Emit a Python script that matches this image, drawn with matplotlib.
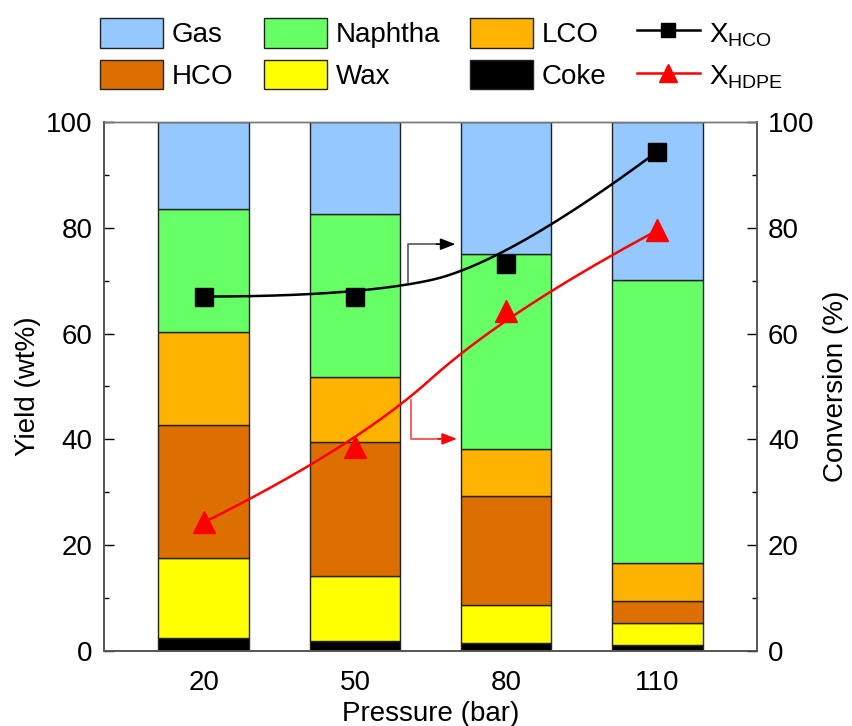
import numpy as np
import matplotlib
matplotlib.use("Agg")
import matplotlib.pyplot as plt
from matplotlib.ticker import MultipleLocator
from matplotlib.lines import Line2D

plt.rcParams['font.family'] = ['Liberation Sans', 'DejaVu Sans']
plt.rcParams['mathtext.fontset'] = 'custom'
plt.rcParams['mathtext.rm'] = 'Liberation Sans'
plt.rcParams['mathtext.it'] = 'Liberation Sans'

# ---- data ----
pressures = ['20', '50', '80', '110']
coke = [2.45, 1.85, 1.5, 1.1]
wax = [15.05, 12.35, 7.2, 4.1]
hco = [25.2, 25.3, 20.6, 4.3]
lco = [17.6, 12.2, 8.8, 7.1]
naphtha = [23.3, 30.9, 36.9, 53.5]
gas = [16.4, 17.4, 25.0, 29.9]
x_hco = [67.0, 67.0, 73.2, 94.4]
x_hdpe = [24.3, 38.5, 64.2, 79.5]

series = [('Coke', coke, '#000000'), ('Wax', wax, '#FFFF00'), ('HCO', hco, '#DD6E00'),
          ('LCO', lco, '#FFB200'), ('Naphtha', naphtha, '#66FF66'), ('Gas', gas, '#94C8FF')]

FS = 20

fig = plt.figure(figsize=(8.52, 7.26), dpi=100)
ax = fig.add_axes([0.122, 0.1033, 0.7665, 0.7287])
xpos = np.arange(len(pressures))
bottom = np.zeros(len(pressures))
bars = {}
for name, vals, col in series:
    bars[name] = ax.bar(xpos, vals, 0.6, bottom=bottom, color=col, edgecolor='#222222',
                        linewidth=1.0, label=name)
    bottom += np.array(vals)

ax.set_xlim(-0.66, 3.66)
ax.set_ylim(0, 100)
ax.set_xticks(xpos)
ax.set_xticklabels(pressures)
ax.tick_params(axis='x', length=0, labelsize=FS, pad=14)
ax.yaxis.set_major_locator(MultipleLocator(20))
ax.yaxis.set_minor_locator(MultipleLocator(10))
ax.tick_params(axis='y', which='major', direction='in', length=7, width=1, labelsize=FS, pad=8)
ax.tick_params(axis='y', which='minor', direction='in', length=3.5, width=1)
ax.set_xlabel('Pressure (bar)', fontsize=FS, labelpad=3)
ax.set_ylabel('Yield (wt%)', fontsize=FS, labelpad=4)

ax2 = ax.twinx()
ax2.set_ylim(0, 100)
ax2.yaxis.set_major_locator(MultipleLocator(20))
ax2.yaxis.set_minor_locator(MultipleLocator(10))
ax2.tick_params(axis='y', which='major', direction='in', length=7, width=1, labelsize=FS, pad=8)
ax2.tick_params(axis='y', which='minor', direction='in', length=3.5, width=1)
ax2.set_ylabel('Conversion (%)', fontsize=FS, labelpad=6)

for a in (ax, ax2):
    for s in ('left', 'right', 'bottom'):
        a.spines[s].set_color('#555555')
        a.spines[s].set_linewidth(1.2)
    a.spines['top'].set_color('#777777')
    a.spines['top'].set_linestyle((0, (2, 1)))
    a.spines['top'].set_linewidth(1.0)


def bspline2(xs, ys, n=100):
    P = np.column_stack([xs, ys]).astype(float)
    ctrl = [P[0]]
    for i in range(1, len(P) - 2):
        ctrl.append(P[i])
        ctrl.append((P[i] + P[i + 1]) / 2)
    ctrl.append(P[-2])
    ctrl.append(P[-1])
    out = []
    for k in range(0, len(ctrl) - 2, 2):
        a, b, c = ctrl[k], ctrl[k + 1], ctrl[k + 2]
        s = np.linspace(0, 1, n)[:, None]
        out.append((1 - s) ** 2 * a + 2 * s * (1 - s) * b + s ** 2 * c)
    pts = np.vstack(out)
    return pts[:, 0], pts[:, 1]


cx, cy = bspline2(xpos, x_hco)
ax2.plot(cx, cy, color='black', lw=1.8, zorder=3)
ax2.plot(xpos, x_hco, 's', color='black', ms=13, zorder=4)
rx, ry = bspline2(xpos, x_hdpe)
ax2.plot(rx, ry, color='red', lw=1.8, zorder=3)
ax2.plot(xpos, x_hdpe, '^', color='red', ms=16, zorder=4)

# elbow arrows pointing to the right axis
ax2.plot([1.35, 1.35, 1.55], [69.8, 76.9, 76.9], color='#555555', lw=1.2, zorder=3)
ax2.annotate('', xy=(1.665, 76.9), xytext=(1.54, 76.9),
             arrowprops=dict(arrowstyle='-|>,head_length=0.9,head_width=0.35', color='black', lw=1.2,
                             shrinkA=0, shrinkB=0), zorder=3)
ax2.plot([1.369, 1.369, 1.56], [47.4, 40.1, 40.1], color='#FF4040', lw=1.2, zorder=3)
ax2.annotate('', xy=(1.675, 40.1), xytext=(1.55, 40.1),
             arrowprops=dict(arrowstyle='-|>,head_length=0.9,head_width=0.35', color='red', lw=1.2,
                             shrinkA=0, shrinkB=0), zorder=3)

# legend
h_hco = Line2D([], [], color='black', marker='s', ms=10, lw=1.8)
h_hdpe = Line2D([], [], color='red', marker='^', ms=13, lw=1.8)
handles = [bars['Gas'], bars['HCO'], bars['Naphtha'], bars['Wax'], bars['LCO'], bars['Coke'], h_hco, h_hdpe]
labels = ['Gas', 'HCO', 'Naphtha', 'Wax', 'LCO', 'Coke', r'X$_\mathregular{HCO}$', r'X$_\mathregular{HDPE}$']
fig.legend(handles, labels, ncol=4, loc='upper left', bbox_to_anchor=(0.1045, 0.99),
           borderaxespad=0, frameon=False, fontsize=FS, handlelength=2.27, handleheight=1.25,
           handletextpad=0.32, columnspacing=1.08, labelspacing=0.42)

fig.savefig('out.png', dpi=100)
